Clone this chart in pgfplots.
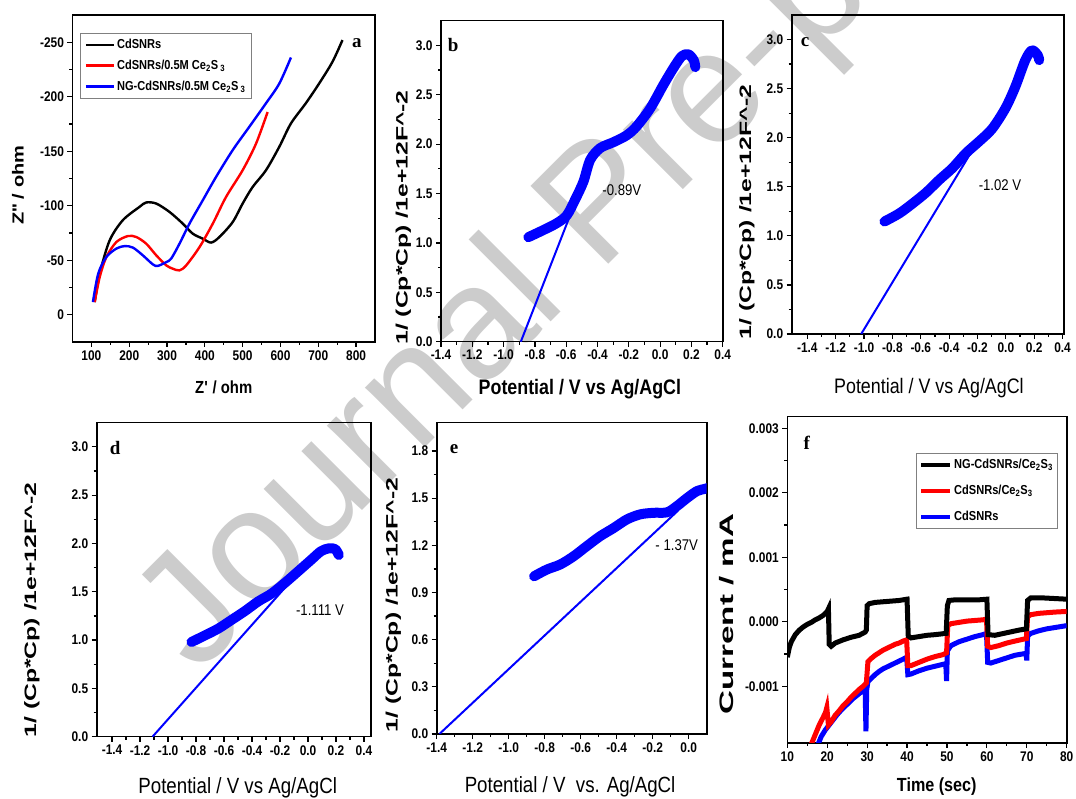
\documentclass[border=0pt]{standalone}
\usepackage{fontspec}
\setmainfont{Liberation Sans}
\newfontfamily\hfont[FakeStretch=0.85]{Liberation Sans}
\newfontfamily\vfont[FakeStretch=1.5]{Liberation Sans}
\newfontfamily\vfontA[FakeStretch=1.25]{Liberation Sans}
\newfontfamily\vfontF[FakeStretch=1.7]{Liberation Sans}
\newfontfamily\letterfont{Liberation Serif}
\usepackage{pgfplots}
\pgfplotsset{compat=1.18}
\definecolor{wm}{gray}{0.8}

\tikzset{
  tag/.style={font=\letterfont\bfseries\fontsize{19}{19}\selectfont},
  note/.style={font=\hfont\fontsize{15.5}{15.5}\selectfont},
}
\pgfplotsset{
  panel/.style={
    scale only axis, anchor=south west,
    axis line style={line width=1.6pt},
    tick style={line width=1.2pt, black},
    tick align=outside,
    major tick length=5pt, minor tick length=3pt,
    xtick pos=left, ytick pos=left,
    minor x tick num=1, minor y tick num=1,
    /pgf/number format/assume math mode=true,
    ticklabel style={font=\hfont\bfseries\fontsize{14}{14}\selectfont},
    every axis y label/.style={rotate=90, anchor=center},
    every axis x label/.style={anchor=center},
  },
  mott/.style={
    panel,
    xtick={-1.4,-1.2,-1.0,-0.8,-0.6,-0.4,-0.2,0,0.2,0.4},
    ymin=0,
    xticklabel style={/pgf/number format/fixed, /pgf/number format/fixed zerofill, /pgf/number format/precision=1},
    yticklabel style={/pgf/number format/fixed, /pgf/number format/fixed zerofill, /pgf/number format/precision=1},
    ylabel={\vfont\bfseries\fontsize{16.5}{16.5}\selectfont 1/ (Cp*Cp) /1e+12F\textasciicircum-2},
  },
  thick curve/.style={blue, line width=10pt, line cap=round, line join=round, smooth},
  tangent/.style={blue, line width=2pt},
}

\begin{document}
\begin{tikzpicture}
\useasboundingbox (0pt,0pt) rectangle (1076pt,799pt);

\begin{scope}
\clip (0pt,0pt) rectangle (1076pt,799pt);
\node[rotate=45, anchor=base west, text=wm, font=\fontsize{160}{160}\selectfont] at (195pt,121pt) {Journal Pre-proof};
\end{scope}

% (a) Nyquist
\begin{axis}[panel, at={(72.5pt,457pt)}, width=302.5pt, height=327pt,
  xmin=50, xmax=850, ymin=-275, ymax=25, y dir=reverse,
  xtick={100,200,...,800}, ytick={-250,-200,...,0},
  xlabel={\hfont\bfseries\fontsize{17.5}{17.5}\selectfont Z\textquotesingle{} / ohm},
  ylabel={\vfontA\bfseries\fontsize{16}{16}\selectfont Z\textquotesingle\textquotesingle{} / ohm},
  xlabel style={at={(axis description cs:0.5,-0.138)}},
  ylabel style={at={(axis description cs:-0.18,0.48)}},
  legend style={at={(0.025,0.945)}, anchor=north west, draw=gray, line width=0.8pt,
    font=\hfont\bfseries\fontsize{13}{13}\selectfont, inner xsep=4pt, inner ysep=4pt,
    row sep=6pt, legend cell align=left},
  legend image code/.code={\draw[#1, line width=2.6pt] (0pt,0pt) -- (28pt,0pt);},
]
\addplot[black, line width=2.4pt, smooth] coordinates {
(108.7,-11.6) (122,-37.7) (148,-68) (183,-86.7) (227,-98.9) (245,-103) (271.5,-102)
(306.6,-94.3) (341.7,-83.6) (368,-74.4) (394.5,-69.8) (416.6,-66.2) (438.5,-71.3)
(473.6,-85) (500,-102) (526,-117) (561.7,-132.6) (596.8,-154) (627.7,-175.5)
(667,-194) (702,-212) (737.5,-232) (764,-252)};
\addlegendentry{CdSNRs}
\addplot[red, line width=2.4pt, smooth] coordinates {
(108.7,-11.6) (122,-34.6) (139.6,-53) (166,-66.7) (196.6,-72.2) (218.7,-71.3)
(245,-65.2) (271.5,-54.5) (298,-45.3) (315.5,-42.2) (333,-40.7) (350.7,-45.3)
(385.8,-62) (421,-83.6) (456,-108) (500,-132.6) (535.4,-157) (566,-186)};
\addlegendentry{CdSNRs/0.5M Ce\textsubscript{2}S\,\textsubscript{3}}
\addplot[blue, line width=2.4pt, smooth] coordinates {
(104,-11.6) (118,-37.7) (139.6,-53) (166,-60.7) (188,-63) (209.8,-61.6) (236,-54.5)
(262.5,-46.2) (275.5,-44.8) (298,-48.3) (311,-51.5) (333,-65.2) (359.4,-83.6)
(394.5,-105) (429.8,-126.5) (473.6,-151) (517.6,-172.4) (561.7,-194) (596.8,-212) (627.7,-236)};
\addlegendentry{NG-CdSNRs/0.5M Ce\textsubscript{2}S\,\textsubscript{3}}
\node[tag] at (axis description cs:0.94,0.914) {a};
\end{axis}

% (b)
\begin{axis}[mott, at={(441pt,457.3pt)}, width=281.7pt, height=321pt,
  xmin=-1.4, xmax=0.4, ymax=3.25, ytick={0,0.5,1,1.5,2,2.5,3},
  xlabel={\hfont\bfseries\fontsize{21}{21}\selectfont Potential / V vs Ag/AgCl},
  xlabel style={at={(axis description cs:0.493,-0.147)}},
  ylabel style={at={(axis description cs:-0.134,0.387)}},
]
\addplot[thick curve] coordinates {
(-0.842,1.058) (-0.746,1.13) (-0.66,1.2) (-0.596,1.28) (-0.544,1.435) (-0.49,1.62)
(-0.447,1.84) (-0.383,1.96) (-0.298,2.02) (-0.213,2.09) (-0.15,2.18) (-0.064,2.36)
(0.021,2.6) (0.085,2.77) (0.138,2.89) (0.18,2.91) (0.215,2.85) (0.225,2.78)};
\addplot[tangent] coordinates {(-0.89,0) (-0.57,1.3)};
\node[tag] at (axis description cs:0.043,0.924) {b};
\node[note] at (axis description cs:0.642,0.472) {-0.89V};
\end{axis}

% (c)
\begin{axis}[mott, at={(791.7pt,465pt)}, width=272.3pt, height=319pt,
  xmin=-1.51, xmax=0.41, ymax=3.25, ytick={0,0.5,1,1.5,2,2.5,3},
  xlabel={\hfont\fontsize{21}{21}\selectfont Potential / V vs Ag/AgCl},
  xlabel style={at={(axis description cs:0.504,-0.169)}},
  ylabel style={at={(axis description cs:-0.165,0.382)}},
]
\addplot[thick curve] coordinates {
(-0.856,1.146) (-0.75,1.23) (-0.657,1.33) (-0.563,1.44) (-0.47,1.57) (-0.377,1.69)
(-0.283,1.84) (-0.19,1.96) (-0.097,2.09) (-0.003,2.3) (0.067,2.52) (0.137,2.79)
(0.184,2.89) (0.225,2.84) (0.235,2.79)};
\addplot[tangent] coordinates {(-1.02,0) (-0.17,2.03)};
\node[tag] at (axis description cs:0.049,0.915) {c};
\node[note] at (axis description cs:0.765,0.467) {-1.02 V};
\end{axis}

% (d)
\begin{axis}[mott, at={(96.7pt,62.3pt)}, width=274.3pt, height=314pt,
  xmin=-1.51, xmax=0.45, ymax=3.25, ytick={0,0.5,1,1.5,2,2.5,3},
  xlabel={\hfont\fontsize{22}{22}\selectfont Potential / V vs Ag/AgCl},
  xlabel style={at={(axis description cs:0.514,-0.163)}},
  ylabel style={at={(axis description cs:-0.236,0.403)}},
]
\addplot[thick curve] coordinates {
(-0.833,0.98) (-0.734,1.05) (-0.64,1.12) (-0.545,1.21) (-0.451,1.30) (-0.356,1.40)
(-0.262,1.48) (-0.167,1.59) (-0.072,1.71) (0.022,1.83) (0.093,1.92) (0.15,1.95)
(0.195,1.94) (0.22,1.88)};
\addplot[tangent] coordinates {(-1.111,0) (-0.08,1.68)};
\node[tag] at (axis description cs:0.067,0.919) {d};
\node[note] at (axis description cs:0.814,0.403) {-1.111 V};
\end{axis}

% (e)
\begin{axis}[mott, at={(436.7pt,65pt)}, width=270pt, height=311.3pt,
  xmin=-1.4, xmax=0.1, ymax=1.98, ytick={0,0.3,0.6,0.9,1.2,1.5,1.8},
  xtick={-1.4,-1.2,-1.0,-0.8,-0.6,-0.4,-0.2,0},
  xlabel={\hfont\fontsize{22}{22}\selectfont Potential / V~~vs. Ag/AgCl},
  xlabel style={at={(axis description cs:0.494,-0.169)}},
  ylabel style={at={(axis description cs:-0.161,0.414)}},
]
\addplot[thick curve] coordinates {
(-0.859,1.003) (-0.788,1.046) (-0.714,1.078) (-0.64,1.13) (-0.566,1.195) (-0.492,1.258)
(-0.417,1.31) (-0.343,1.365) (-0.269,1.397) (-0.195,1.407) (-0.12,1.41) (-0.065,1.45)
(-0.01,1.5) (0.046,1.545) (0.093,1.56) (0.12,1.57)};
\addplot[tangent] coordinates {(-1.385,0) (-0.06,1.42)};
\node[tag] at (axis description cs:0.064,0.915) {e};
\node[note] at (axis description cs:0.889,0.607) {- 1.37V};
\end{axis}

% (f) photocurrent
\begin{axis}[panel, at={(787.3pt,56pt)}, width=279.4pt, height=326.3pt,
  xmin=10, xmax=80, ymin=-0.00188, ymax=0.00318,
  xtick={10,20,...,80}, ytick={-0.001,0,0.001,0.002,0.003},
  scaled y ticks=false,
  yticklabel style={/pgf/number format/fixed, /pgf/number format/fixed zerofill, /pgf/number format/precision=3},
  xlabel={\hfont\bfseries\fontsize{19}{19}\selectfont Time (sec)},
  ylabel={\vfontF\bfseries\fontsize{19.5}{19.5}\selectfont Current / mA},
  xlabel style={at={(axis description cs:0.535,-0.134)}},
  ylabel style={at={(axis description cs:-0.217,0.395)}},
  reverse legend,
  legend style={at={(0.46,0.889)}, anchor=north west, draw=gray, line width=0.8pt,
    font=\hfont\bfseries\fontsize{13}{13}\selectfont, inner xsep=3pt, inner ysep=4pt,
    row sep=11pt, legend cell align=left},
  legend image code/.code={\draw[#1, line width=4pt] (0pt,0pt) -- (29pt,0pt);},
]
\addplot[blue, line width=5pt] coordinates {
(17.7,-0.0019) (18.5,-0.00178) (19.5,-0.00168) (20.5,-0.0016) (21.5,-0.00152) (22.5,-0.00144)
(23.5,-0.00137) (24.5,-0.00131) (25.5,-0.00125) (26.5,-0.00119) (27.5,-0.00114) (28.5,-0.00109)
(29.5,-0.00104) (29.7,-0.0017) (29.9,-0.00105) (30.2,-0.00093) (31,-0.00088) (32,-0.00082)
(33,-0.00077) (34,-0.00073) (35,-0.0007) (36,-0.00067) (37,-0.00064) (38,-0.00061) (39,-0.00058)
(39.9,-0.00055) (40.2,-0.00082) (41,-0.00081) (43,-0.00076) (45,-0.00072) (47,-0.00069)
(49,-0.00066) (49.7,-0.00065) (49.9,-0.00092) (50.1,-0.00045) (51,-0.00037) (53,-0.00031)
(55,-0.00027) (57,-0.00023) (59,-0.0002) (59.9,-0.00018) (60.2,-0.00063) (61,-0.00064)
(63,-0.0006) (65,-0.00056) (67,-0.00052) (69.8,-0.00049) (70,-0.0006) (70.2,-0.00022)
(71,-0.00018) (73,-0.00014) (75,-0.00011) (77,-0.00009) (80,-0.00006)};
\addlegendentry{CdSNRs}
\addplot[red, line width=5pt] coordinates {
(16,-0.0019) (17,-0.00175) (18,-0.0016) (19,-0.00148) (19.6,-0.0014) (19.9,-0.00133)
(20.3,-0.0016) (21,-0.00155) (22,-0.00145) (23,-0.00138) (24,-0.0013) (25,-0.00124)
(26,-0.00117) (27,-0.00111) (28,-0.00105) (29,-0.001) (29.8,-0.00095) (30.2,-0.00062)
(31,-0.00057) (32,-0.00052) (33,-0.00048) (34,-0.00044) (35,-0.00041) (36,-0.00038)
(37,-0.00035) (38,-0.00033) (39,-0.0003) (39.9,-0.00028) (40.2,-0.00068) (41,-0.00068)
(43,-0.00063) (45,-0.00058) (47,-0.00054) (49,-0.00051) (49.9,-0.00048) (50.2,-0.00006)
(51,-0.00003) (53,-0.00001) (55,0.00001) (57,0.00002) (59,0.00003) (59.9,0.00004)
(60.2,-0.00038) (61,-0.0004) (63,-0.00037) (65,-0.00033) (67,-0.0003) (69.9,-0.00026)
(70.2,0.00008) (71,0.00011) (73,0.00013) (75,0.00014) (77,0.00015) (80,0.00016)};
\addlegendentry{CdSNRs/Ce\textsubscript{2}S\textsubscript{3}}
\addplot[black, line width=5pt] coordinates {
(10,-0.00055) (10.5,-0.0004) (11,-0.00031) (12,-0.0002) (13,-0.00013) (14,-0.00008)
(15,-0.00004) (16,-0.00001) (17,0.00003) (18,0.00006) (19,0.0001) (20,0.00016) (20.3,0.0002)
(20.5,-0.00035) (21,-0.00038) (22,-0.00033) (24,-0.00028) (26,-0.00024) (28,-0.00021)
(29.5,-0.00016) (29.8,-0.00013) (30,0.00025) (30.5,0.00028) (32,0.0003) (34,0.00031)
(36,0.00032) (38,0.00033) (40,0.00035) (40.3,-0.00022) (41,-0.00025) (43,-0.00023)
(45,-0.00021) (47,-0.0002) (49.8,-0.00018) (50.1,0.00025) (50.5,0.00033) (52,0.00034)
(55,0.00034) (58,0.00034) (60,0.00035) (60.3,-0.0002) (62,-0.00021) (65,-0.00017)
(68,-0.00013) (69.9,-0.00011) (70.2,0.00033) (71,0.00037) (74,0.00037) (77,0.00036) (80,0.00035)};
\addlegendentry{NG-CdSNRs/Ce\textsubscript{2}S\textsubscript{3}}
\node[tag] at (axis description cs:0.07,0.919) {f};
\end{axis}
\end{tikzpicture}
\end{document}
